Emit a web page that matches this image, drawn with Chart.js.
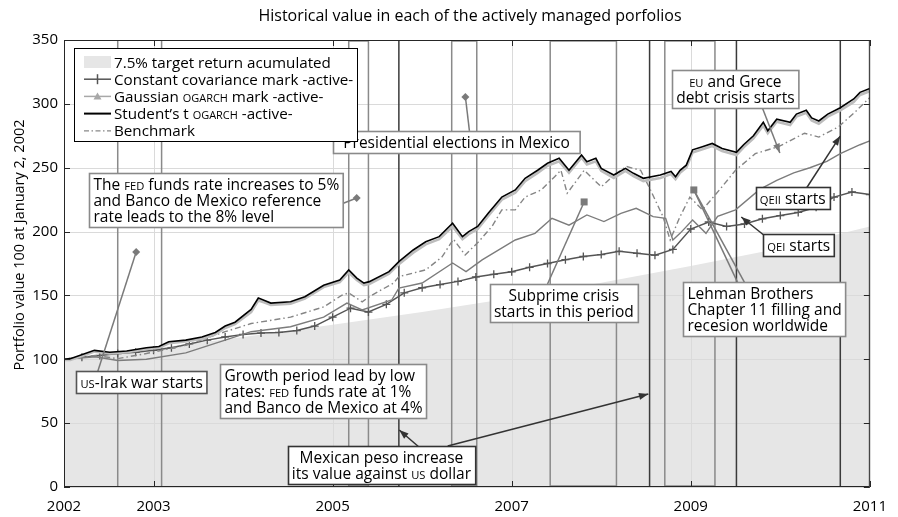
<!DOCTYPE html>
<html>
<head>
<meta charset="utf-8">
<script src="https://cdn.jsdelivr.net/npm/chart.js@4"></script>
<style>html,body{margin:0;padding:0;background:#fff}</style>
</head>
<body>
<canvas id="c" width="898" height="517"></canvas>
<script>
const FONT = '"Open Sans", "DejaVu Sans", sans-serif';

const xTicks = [2002, 2003, 2005, 2007, 2009, 2011];
const yTicks = [0, 50, 100, 150, 200, 250, 300, 350];

// 7.5% target return (grey area)
const targetDates = [2002, 2003, 2004, 2005, 2006, 2007, 2008, 2009, 2010, 2011];
const targetVals = [100, 108.5, 117.5, 127, 137, 148, 160, 173, 187, 204];

// constant covariance (+ marks)
const ccDates = [2002.0, 2002.2, 2002.4, 2002.6, 2002.8, 2003.0, 2003.2, 2003.4, 2003.6, 2003.8,
  2004.0, 2004.2, 2004.4, 2004.6, 2004.8, 2005.0, 2005.2, 2005.4, 2005.6, 2005.8,
  2006.0, 2006.2, 2006.4, 2006.6, 2006.8, 2007.0, 2007.2, 2007.4, 2007.6, 2007.8,
  2008.0, 2008.2, 2008.4, 2008.6, 2008.8, 2009.0, 2009.2, 2009.4, 2009.6, 2009.8,
  2010.0, 2010.2, 2010.4, 2010.6, 2010.8, 2011.0];
const ccVals = [100, 101.5, 103, 104.5, 105.5, 107, 109, 112, 115, 117.5,
  119.5, 120.5, 121, 122.5, 126, 133, 140, 137, 143, 152,
  156, 158.5, 161, 164.5, 166.5, 168.5, 172, 175, 178, 180.5,
  182, 184.5, 183, 181.5, 186, 202, 207.5, 204, 206, 210,
  212.5, 215, 219, 227, 231, 229];

// Student's t OGARCH (black) and Gaussian OGARCH (light grey, just below)
const studentDates = [2002.00, 2002.07, 2002.34, 2002.51, 2002.70, 2002.92, 2003.06, 2003.17, 2003.36, 2003.54,
  2003.69, 2003.80, 2003.91, 2004.09, 2004.17, 2004.24, 2004.31, 2004.53, 2004.69, 2004.90,
  2005.08, 2005.18, 2005.27, 2005.35, 2005.41, 2005.63, 2005.74, 2005.90, 2006.04, 2006.19,
  2006.34, 2006.45, 2006.52, 2006.62, 2006.74, 2006.89, 2007.04, 2007.15, 2007.29, 2007.40,
  2007.53, 2007.64, 2007.78, 2007.84, 2007.94, 2008.00, 2008.14, 2008.27, 2008.36, 2008.47,
  2008.66, 2008.78, 2008.83, 2008.88, 2008.95, 2009.02, 2009.13, 2009.24, 2009.35, 2009.51,
  2009.59, 2009.70, 2009.81, 2009.86, 2009.96, 2010.11, 2010.18, 2010.29, 2010.35, 2010.43,
  2010.53, 2010.67, 2010.82, 2010.89, 2011.00];
const studentVals = [100, 100.5, 107, 105.5, 106.5, 109, 110, 113.8, 115, 117.5,
  121, 126, 129, 139, 148, 146, 144, 145, 149, 158,
  162, 170, 163.6, 159.7, 160.8, 168.6, 176.4, 185.6, 192, 196,
  206.5, 196, 200, 204, 214.5, 227, 232.6, 241.7, 248, 253.5,
  257.4, 248, 260, 254.7, 257.4, 249.5, 244.3, 249.5, 245.6, 241.7,
  244.3, 247, 243, 248, 252, 264, 266.5, 269, 265, 262,
  268, 275, 285.6, 279, 288, 285.6, 292, 295, 289, 286.6,
  292, 297, 303.8, 309, 312];
const gaussVals = [99.5, 99.5, 106, 104.5, 105.5, 108, 109, 112.5, 114, 116,
  119.5, 124.5, 127.5, 137, 146, 144.5, 142.5, 143.5, 147.5, 156.5,
  160.5, 168, 162, 158, 159, 167, 174.5, 183.5, 190, 194,
  204, 194, 198, 202, 212.5, 225, 230.5, 239.5, 246, 251.5,
  255, 246, 258, 252.5, 255, 247.5, 242, 247.5, 243.5, 239.5,
  242, 245, 241, 246, 250, 262, 264.5, 267, 263, 260,
  266, 273, 283, 277, 286, 283.5, 290, 293, 287, 284.5,
  290, 295, 301.5, 307, 310];

// Benchmark (dash-dot)
const benchDates = [2002.0, 2002.35, 2002.6, 2002.92, 2003.36, 2003.80, 2004.09, 2004.53, 2004.90, 2005.10,
  2005.18, 2005.33, 2005.41, 2005.68, 2005.74, 2006.04, 2006.22, 2006.35, 2006.48, 2006.63,
  2006.78, 2006.89, 2007.04, 2007.15, 2007.33, 2007.48, 2007.55, 2007.62, 2007.81, 2008.0,
  2008.14, 2008.28, 2008.44, 2008.55, 2008.69, 2008.77, 2008.88, 2008.99, 2009.13, 2009.32,
  2009.5, 2009.72, 2009.98, 2010.27, 2010.43, 2010.65, 2010.82, 2011.0];
const benchVals = [100, 103, 100.5, 104.5, 111, 121.6, 128, 133, 141, 150,
  152, 145, 149, 159.7, 164.7, 170, 180, 194, 181.7, 192,
  204, 217, 217, 227, 232.6, 243, 248, 230, 248, 235,
  244, 251, 248, 232.6, 211.7, 193.4, 211.7, 227, 217, 232.6,
  248, 261, 266.5, 277, 274, 282, 292.6, 305];

// grey solid line without legend entry
const midDates = [2002.0, 2002.35, 2002.6, 2002.92, 2003.36, 2003.80, 2004.09, 2004.53, 2004.90, 2005.16,
  2005.33, 2005.66, 2005.74, 2006.0, 2006.34, 2006.49, 2006.67, 2007.04, 2007.26, 2007.45,
  2007.64, 2007.84, 2008.03, 2008.22, 2008.39, 2008.58, 2008.72, 2008.80, 2008.88, 2009.02,
  2009.17, 2009.3, 2009.5, 2009.77, 2009.96, 2010.15, 2010.33, 2010.52, 2010.67, 2010.89, 2011.0];
const midVals = [100, 102, 99, 100, 105, 115, 121.6, 125.5, 133, 144,
  138.6, 146.4, 155.8, 159.7, 175.4, 168.6, 177.8, 193.4, 198.6, 210.4,
  205, 213, 207.8, 214.3, 218.2, 211.7, 210.4, 193.4, 198.6, 209,
  198.6, 212, 217, 233, 240, 246, 250, 255, 261, 268, 271];

// event markers
const greyEvents = [2002.6, 2003.09];
const darkEvents = [2005.74, 2008.54, 2009.51, 2010.67];
const periods = [[2005.18, 2005.40], [2006.33, 2006.61], [2007.43, 2008.17], [2008.71, 2009.27]];

// text boxes: {name} is set in small capitals
const notes = [
  { lines: ['{us}-Irak war starts'], at: [2002.867, 82.6], align: 'center', edge: '#555' },
  { lines: ['The {fed} funds rate increases to 5%', 'and Banco de Mexico reference', 'rate leads to the 8% level'], at: [2003.695, 224.7], align: 'left', edge: '#8a8a8a' },
  { lines: ['Presidential elections in Mexico'], at: [2006.384, 270.1], align: 'center', edge: '#8a8a8a', extra: 12 },
  { lines: ['{eu} and Grece', 'debt crisis starts'], at: [2009.498, 312.0], align: 'center', edge: '#8a8a8a' },
  { lines: ['{qeii} starts'], at: [2010.139, 225.9], align: 'center', edge: '#333' },
  { lines: ['{qei} starts'], at: [2010.205, 189.1], align: 'center', edge: '#333' },
  { lines: ['Lehman Brothers', 'Chapter 11 filling and', 'recesion worldwide'], at: [2009.824, 139.0], align: 'left', edge: '#8a8a8a' },
  { lines: ['Subprime crisis', 'starts in this period'], at: [2007.582, 143.7], align: 'center', edge: '#8a8a8a' },
  { lines: ['Growth period lead by low', 'rates: {fed} funds rate at 1%', 'and Banco de Mexico at 4%'], at: [2004.888, 74.8], align: 'left', edge: '#8a8a8a' },
  { lines: ['Mexican peso increase', 'its value against {us} dollar'], at: [2005.545, 17.2], align: 'center', edge: '#333' }
];

const pointers = [
  { from: [2002.375, 90.0], to: [2002.806, 184.0], end: 'diamond', color: '#7a7a7a' },
  { from: [2005.070, 220.8], to: [2005.269, 226.3], end: 'diamond', color: '#7a7a7a' },
  { from: [2006.528, 278.8], to: [2006.483, 305.4], end: 'diamond', color: '#7a7a7a' },
  { from: [2007.400, 159.0], to: [2007.809, 223.2], end: 'square', color: '#7a7a7a' },
  { from: [2009.531, 159.0], to: [2009.034, 232.6], end: 'square', color: '#7a7a7a' },
  { from: [2009.609, 159.0], to: [2009.034, 232.6], end: 'none', color: '#7a7a7a' },
  { from: [2009.796, 297.5], to: [2009.995, 261.5], end: 'arrow', color: '#7a7a7a' },
  { from: [2010.293, 234.1], to: [2010.669, 274.8], end: 'arrow', color: '#333' },
  { from: [2009.884, 193.4], to: [2009.564, 211.4], end: 'arrow', color: '#333' },
  { from: [2005.964, 31.3], to: [2005.744, 44.6], end: 'arrow', color: '#333' },
  { from: [2006.285, 32.1], to: [2008.526, 72.8], end: 'arrow', color: '#333' }
];

const legendItems = [
  { label: '7.5% target return acumulated', kind: 'fill' },
  { label: 'Constant covariance mark -active-', kind: 'cross' },
  { label: 'Gaussian {ogarch} mark -active-', kind: 'tri' },
  { label: 'Student\u2019s t {ogarch} -active-', kind: 'solid' },
  { label: 'Benchmark', kind: 'dashdot' }
];

function pts(dates, vals) {
  return dates.map((d, i) => ({ x: d, y: vals[i] }));
}

// small-caps aware text
function parts(s) {
  return s.split(/(\{[^}]*\})/).filter(Boolean).map(p =>
    p[0] === '{' ? { t: p.slice(1, -1).toUpperCase(), sc: true } : { t: p, sc: false });
}
function richWidth(ctx, s, size) {
  let w = 0;
  for (const p of parts(s)) {
    ctx.font = (p.sc ? size * 0.72 : size) + 'px ' + FONT;
    w += ctx.measureText(p.t).width;
  }
  return w;
}
function richText(ctx, s, x, y, size) {
  ctx.textAlign = 'left';
  ctx.textBaseline = 'alphabetic';
  for (const p of parts(s)) {
    ctx.font = (p.sc ? size * 0.72 : size) + 'px ' + FONT;
    ctx.fillText(p.t, x, y);
    x += ctx.measureText(p.t).width;
  }
}

function marker(ctx, kind, x, y, color) {
  ctx.fillStyle = color;
  ctx.beginPath();
  if (kind === 'diamond') {
    ctx.moveTo(x, y - 4); ctx.lineTo(x + 4, y); ctx.lineTo(x, y + 4); ctx.lineTo(x - 4, y);
  } else if (kind === 'square') {
    ctx.rect(x - 3.5, y - 3.5, 7, 7);
  }
  ctx.closePath();
  ctx.fill();
}

const decor = {
  id: 'decor',
  afterDatasetDraw(chart, args) {
    if (args.index !== 5) return;
    const { ctx, chartArea: a, scales: { x, y } } = chart;
    ctx.save();
    ctx.strokeStyle = '#dadada';
    ctx.lineWidth = 1;
    yTicks.forEach(v => {
      const py = Math.round(y.getPixelForValue(v)) + 0.5;
      ctx.beginPath(); ctx.moveTo(a.left, py); ctx.lineTo(a.right, py); ctx.stroke();
    });
    xTicks.forEach(v => {
      const px = Math.round(x.getPixelForValue(v)) + 0.5;
      ctx.beginPath(); ctx.moveTo(px, a.top); ctx.lineTo(px, a.bottom); ctx.stroke();
    });
    ctx.lineWidth = 1.5;
    ctx.strokeStyle = '#8a8a8a';
    greyEvents.forEach(v => {
      const px = x.getPixelForValue(v);
      ctx.beginPath(); ctx.moveTo(px, a.top); ctx.lineTo(px, a.bottom); ctx.stroke();
    });
    periods.forEach(([s, e]) => {
      const p1 = x.getPixelForValue(s), p2 = x.getPixelForValue(e);
      ctx.strokeRect(p1, a.top + 1, p2 - p1, a.bottom - a.top - 2);
    });
    ctx.strokeStyle = '#3a3a3a';
    darkEvents.forEach(v => {
      const px = x.getPixelForValue(v);
      ctx.beginPath(); ctx.moveTo(px, a.top); ctx.lineTo(px, a.bottom); ctx.stroke();
    });
    ctx.restore();
  },
  afterDatasetsDraw(chart) {
    const { ctx, chartArea: a, scales: { x, y } } = chart;
    ctx.save();
    // frame and inward ticks
    ctx.strokeStyle = '#262626';
    ctx.lineWidth = 1;
    ctx.strokeRect(a.left + 0.5, a.top + 0.5, a.right - a.left - 1, a.bottom - a.top - 1);
    ctx.beginPath();
    yTicks.forEach(v => {
      const py = Math.round(y.getPixelForValue(v)) + 0.5;
      ctx.moveTo(a.left, py); ctx.lineTo(a.left + 6, py);
      ctx.moveTo(a.right, py); ctx.lineTo(a.right - 6, py);
    });
    xTicks.forEach(v => {
      const px = Math.round(x.getPixelForValue(v)) + 0.5;
      ctx.moveTo(px, a.bottom); ctx.lineTo(px, a.bottom - 6);
      ctx.moveTo(px, a.top); ctx.lineTo(px, a.top + 6);
    });
    ctx.stroke();

    // pointer lines
    pointers.forEach(p => {
      const x1 = x.getPixelForValue(p.from[0]), y1 = y.getPixelForValue(p.from[1]);
      const x2 = x.getPixelForValue(p.to[0]), y2 = y.getPixelForValue(p.to[1]);
      ctx.strokeStyle = p.color;
      ctx.lineWidth = 1.5;
      ctx.beginPath(); ctx.moveTo(x1, y1); ctx.lineTo(x2, y2); ctx.stroke();
      if (p.end === 'arrow') {
        const ang = Math.atan2(y2 - y1, x2 - x1);
        ctx.fillStyle = p.color;
        ctx.beginPath();
        ctx.moveTo(x2, y2);
        ctx.lineTo(x2 - 10 * Math.cos(ang - 0.35), y2 - 10 * Math.sin(ang - 0.35));
        ctx.lineTo(x2 - 10 * Math.cos(ang + 0.35), y2 - 10 * Math.sin(ang + 0.35));
        ctx.closePath(); ctx.fill();
      } else if (p.end !== 'none') {
        marker(ctx, p.end, x2, y2, p.color);
      }
    });

    // text boxes
    const size = 15.5, lh = 16, padX = 4, padY = 3;
    notes.forEach(n => {
      const cx = x.getPixelForValue(n.at[0]), cy = y.getPixelForValue(n.at[1]);
      const widths = n.lines.map(l => richWidth(ctx, l, size));
      const w = Math.max(...widths) + 2 * padX + (n.extra || 0);
      const h = n.lines.length * lh + 2 * padY;
      const left = Math.round(cx - w / 2) + 0.5, top = Math.round(cy - h / 2) + 0.5;
      ctx.fillStyle = '#fff';
      ctx.fillRect(left, top, w, h);
      ctx.strokeStyle = n.edge;
      ctx.lineWidth = 1.6;
      ctx.strokeRect(left, top, w, h);
      ctx.fillStyle = '#000';
      n.lines.forEach((l, i) => {
        const tx = n.align === 'left' ? left + padX : cx - widths[i] / 2;
        const ty = top + padY + lh * i + lh / 2 + 5.5;
        richText(ctx, l, tx, ty, size);
      });
    });

    // legend
    const lx = 74.5, ly = 48.5, lw = 283, lhgt = 93;
    ctx.fillStyle = '#fff';
    ctx.fillRect(lx, ly, lw, lhgt);
    ctx.strokeStyle = '#000';
    ctx.lineWidth = 1;
    ctx.strokeRect(lx, ly, lw, lhgt);
    legendItems.forEach((it, i) => {
      const ry = 62 + i * 17.2;
      const s0 = 84, s1 = 111;
      ctx.save();
      if (it.kind === 'fill') {
        ctx.fillStyle = '#e6e6e6';
        ctx.fillRect(s0, ry - 6, s1 - s0, 12);
      } else {
        ctx.beginPath(); ctx.moveTo(s0, ry); ctx.lineTo(s1, ry);
        if (it.kind === 'cross') { ctx.strokeStyle = '#555'; ctx.lineWidth = 1.5; }
        if (it.kind === 'tri') { ctx.strokeStyle = '#a8a8a8'; ctx.lineWidth = 1.5; }
        if (it.kind === 'solid') { ctx.strokeStyle = '#000'; ctx.lineWidth = 2; }
        if (it.kind === 'dashdot') { ctx.strokeStyle = '#888'; ctx.lineWidth = 1.2; ctx.setLineDash([5, 2.5, 1.5, 2.5]); }
        ctx.stroke();
        ctx.setLineDash([]);
        const mx = (s0 + s1) / 2;
        if (it.kind === 'cross') {
          ctx.beginPath(); ctx.moveTo(mx, ry - 5); ctx.lineTo(mx, ry + 5); ctx.stroke();
        }
        if (it.kind === 'tri') {
          ctx.fillStyle = '#a8a8a8';
          ctx.beginPath(); ctx.moveTo(mx, ry - 4); ctx.lineTo(mx + 4, ry + 3); ctx.lineTo(mx - 4, ry + 3);
          ctx.closePath(); ctx.fill();
        }
      }
      ctx.restore();
      ctx.fillStyle = '#000';
      richText(ctx, it.label, 114, ry + 5.5, 15.2);
    });
    ctx.restore();
  },
  afterDraw(chart) {
    const { ctx, chartArea: a } = chart;
    ctx.save();
    ctx.fillStyle = '#000';
    ctx.font = '16px ' + FONT;
    ctx.textAlign = 'center';
    ctx.textBaseline = 'middle';
    ctx.fillText('Historical value in each of the actively managed porfolios', 470, 16);
    ctx.translate(20, 245);
    ctx.rotate(-Math.PI / 2);
    ctx.font = '14.5px ' + FONT;
    ctx.fillText('Portfolio value 100 at January 2, 2002', 0, 0);
    ctx.restore();
  }
};

const lineBase = { pointRadius: 0, tension: 0, fill: false };

new Chart(document.getElementById('c'), {
  type: 'line',
  data: {
    datasets: [
      Object.assign({}, lineBase, { label: 'Student\u2019s t OGARCH -active-', data: pts(studentDates, studentVals), borderColor: '#000', borderWidth: 1.6 }),
      Object.assign({}, lineBase, { label: 'Gaussian OGARCH mark -active-', data: pts(studentDates, gaussVals), borderColor: '#bdbdbd', borderWidth: 2.6 }),
      Object.assign({}, lineBase, { label: 'Benchmark', data: pts(benchDates, benchVals), borderColor: '#858585', borderWidth: 1.4, borderDash: [6, 3, 1.5, 3] }),
      Object.assign({}, lineBase, { label: '', data: pts(midDates, midVals), borderColor: '#7c7c7c', borderWidth: 1.4 }),
      Object.assign({}, lineBase, { label: 'Constant covariance mark -active-', data: pts(ccDates, ccVals), borderColor: '#555', borderWidth: 1.5,
        pointRadius: 4, pointStyle: 'cross', pointBorderColor: '#555', pointBorderWidth: 1.3, pointRotation: 0 }),
      { label: '7.5% target return acumulated', data: pts(targetDates, targetVals), fill: 'origin', backgroundColor: '#e6e6e6',
        borderColor: 'rgba(0,0,0,0)', borderWidth: 0, pointRadius: 0, tension: 0 }
    ]
  },
  options: {
    responsive: false,
    devicePixelRatio: 1,
    animation: false,
    layout: { padding: { top: 40, right: 19, left: 0, bottom: 0 } },
    plugins: { legend: { display: false }, tooltip: { enabled: false } },
    scales: {
      x: {
        type: 'linear', min: 2002, max: 2011,
        afterBuildTicks: s => { s.ticks = xTicks.map(v => ({ value: v })); },
        afterFit: s => { s.height = 30; },
        grid: { display: false, drawTicks: false },
        border: { display: false },
        ticks: { color: '#000', font: { family: FONT, size: 15 }, padding: 11, maxRotation: 0, autoSkip: false, callback: v => String(v) }
      },
      y: {
        min: 0, max: 350,
        afterBuildTicks: s => { s.ticks = yTicks.map(v => ({ value: v })); },
        afterFit: s => { s.width = 64; },
        grid: { display: false, drawTicks: false },
        border: { display: false },
        ticks: { color: '#000', font: { family: FONT, size: 15 }, padding: 6, callback: v => String(v) }
      }
    }
  },
  plugins: [decor]
});
</script>
</body>
</html>
